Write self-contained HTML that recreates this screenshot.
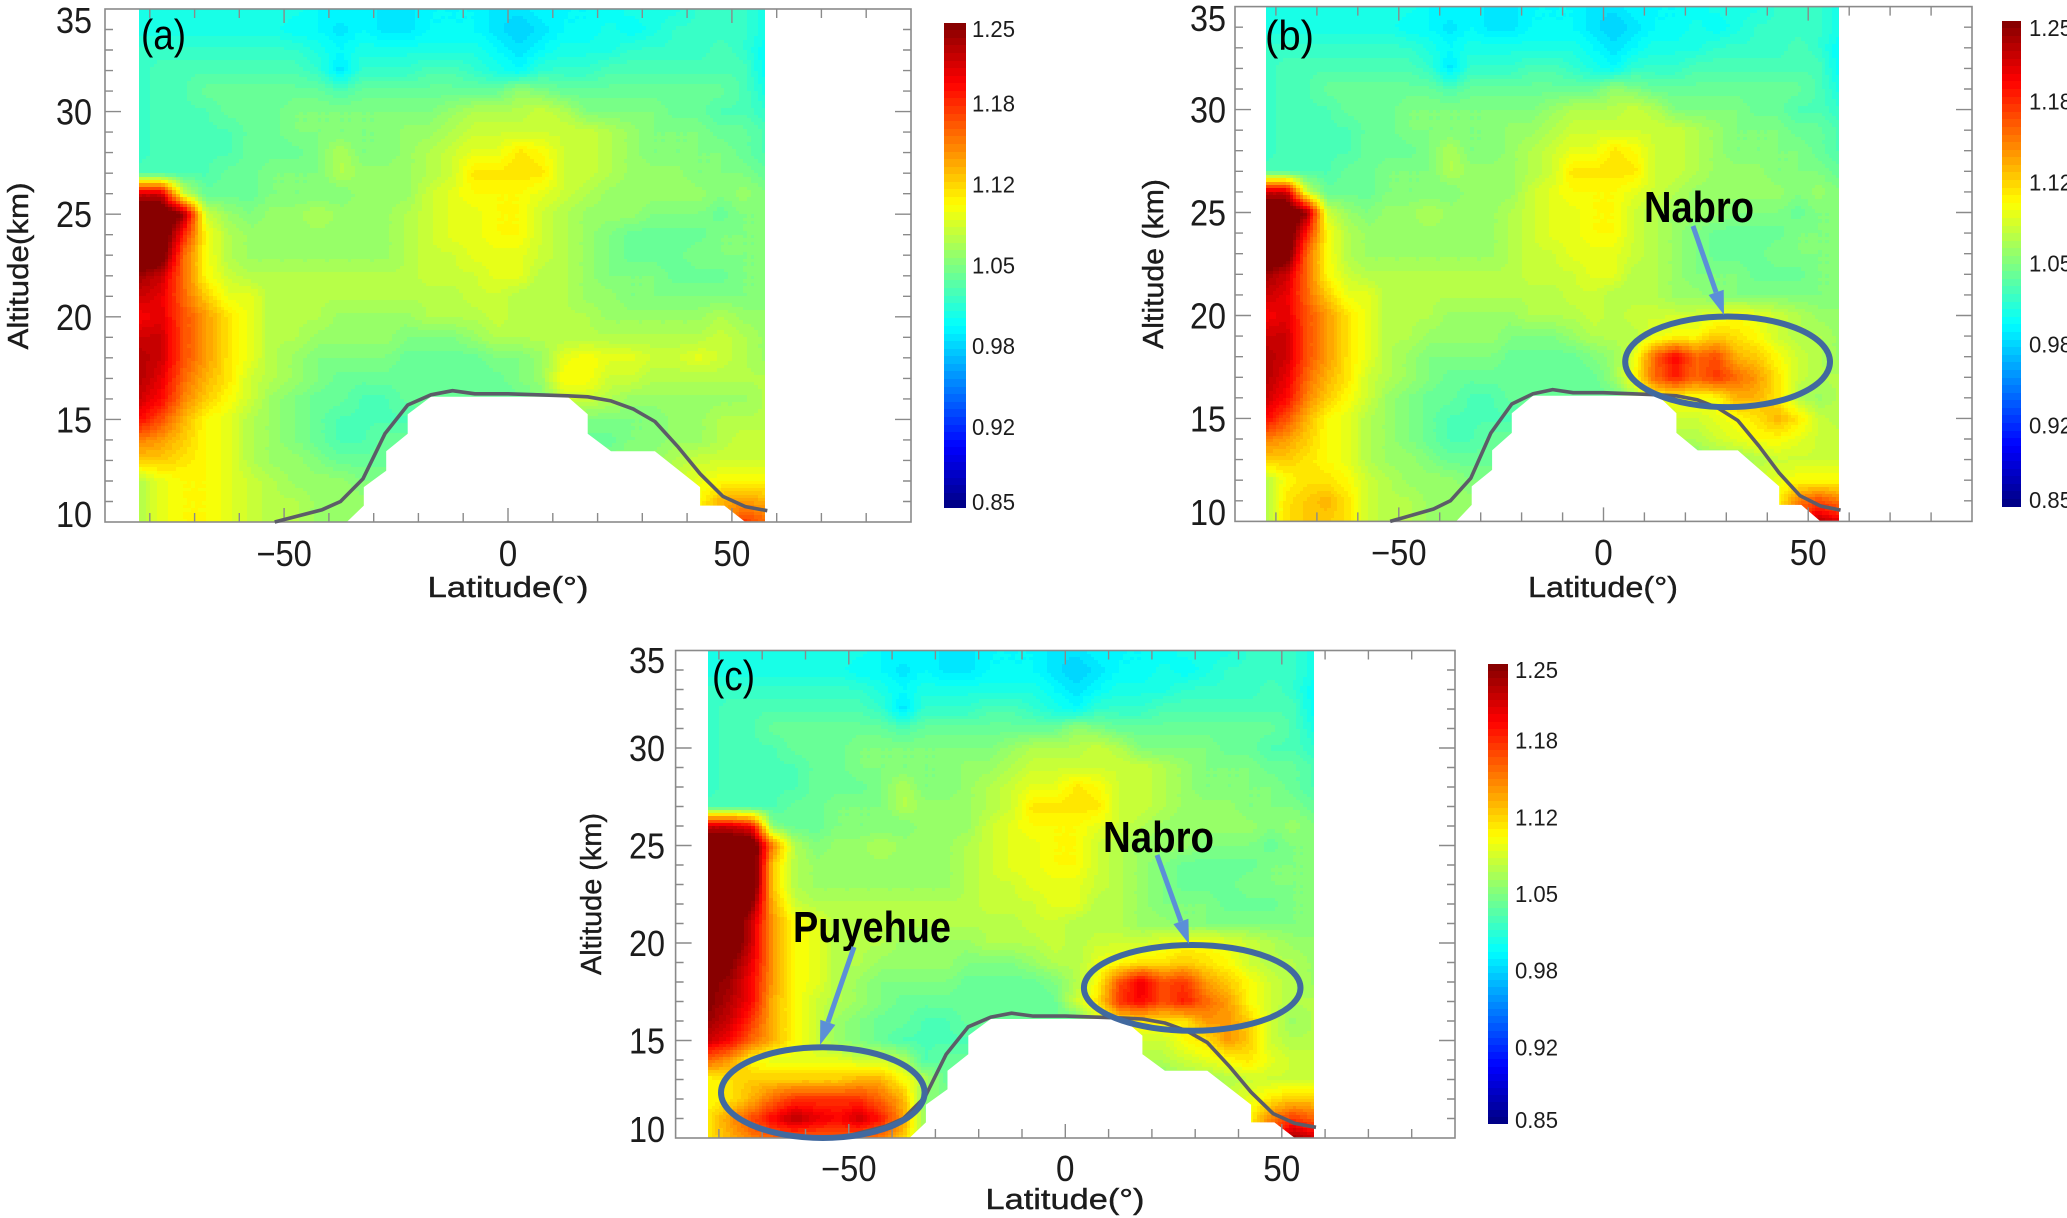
<!DOCTYPE html>
<html lang="en">
<head>
<meta charset="utf-8">
<title>Latitude-altitude scattering ratio panels</title>
<style>
html,body{margin:0;padding:0;background:#fff;width:2067px;height:1218px;overflow:hidden}
svg{display:block}
#figure{fill:#1c1c1c}
text{font-family:"Liberation Sans",sans-serif}
</style>
</head>
<body>
<svg id="figure" xmlns="http://www.w3.org/2000/svg" width="2067" height="1218" viewBox="0 0 2067 1218"></svg>
<script>
// ---- chart data ----
const latitudes = [-82.5,-77.5,-72.5,-67.5,-62.5,-57.5,-52.5,-47.5,-42.5,-37.5,-32.5,-27.5,-22.5,-17.5,-12.5,-7.5,-2.5,2.5,7.5,12.5,17.5,22.5,27.5,32.5,37.5,42.5,47.5,52.5,57.5];
const altitudes = [35,34,33,32,31,30,29,28,27,26,25,24,23,22,21,20,19,18,17,16,15,14,13,12,11,10];
// scattering ratio x 100, one row per altitude, one column per latitude
const fieldA = [
[101,101,101,101,101,101,101,101,100,100,100, 99, 99,100,100,100, 99, 99,100,100,100,100,101,101,101,102,102,102,101],
[101,101,101,101,101,101,101,100,100, 99,100, 99, 99,100,100,100, 99, 98, 99,100,100,101,100,101,102,102,102,102,101],
[102,102,102,102,102,102,102,102,101,100,101,101,101,101,101,101,100, 99,100,101,101,101,102,102,102,102,103,102,100],
[102,103,103,103,103,103,103,103,102, 99,102,102,102,103,103,102,101,100,102,102,102,103,103,103,103,103,103,103,100],
[102,103,103,104,104,104,104,104,104,103,104,104,104,104,104,104,104,106,105,104,104,104,104,104,104,104,104,103,101],
[102,103,103,103,104,104,104,105,105,105,105,105,105,105,106,107,107,107,108,107,105,105,105,105,104,104,103,103,102],
[102,103,103,103,103,104,104,105,105,105,105,105,106,106,107,108,108,108,108,108,108,107,106,105,105,105,104,104,103],
[102,103,103,103,103,104,104,104,105,107,105,105,106,107,108,109,109,111,110,108,108,107,106,105,105,105,105,104,103],
[103,103,103,103,104,104,105,105,105,107,106,106,106,107,108,111,111,111,111,108,108,107,106,106,106,105,105,105,104],
[122,122,108,104,104,104,105,105,105,105,106,106,106,108,109,110,110,110,109,108,107,106,106,106,106,106,105,106,105],
[128,128,124,108,106,105,106,106,107,106,106,106,107,108,109,109,110,110,108,107,106,106,106,105,105,105,104,105,105],
[128,128,119,110,107,106,106,106,106,106,106,106,107,108,109,109,110,110,108,107,106,105,104,104,104,104,105,105,105],
[128,127,116,110,107,106,106,106,106,106,106,106,107,108,108,109,109,109,108,107,106,105,104,104,104,105,105,105,105],
[124,122,116,110,108,107,107,107,107,107,107,107,107,108,108,108,109,109,107,107,106,105,105,105,104,104,104,105,105],
[122,121,116,112,109,109,107,107,107,107,107,107,107,107,107,108,108,107,107,107,106,106,105,105,105,105,105,105,105],
[120,121,117,114,111,109,107,107,107,106,106,106,106,107,107,107,108,107,107,107,107,106,106,106,106,106,107,106,106],
[122,122,117,114,111,109,107,107,106,106,106,106,105,105,105,106,107,107,107,107,107,107,107,107,107,107,108,107,106],
[123,122,117,114,111,109,107,106,105,105,105,105,104,104,104,104,105,105,106,109,110,109,109,108,108,109,108,107,106],
[123,121,116,113,111,108,107,106,105,104,104,104,104,104,104,104,104,105,106,110,110,108,108,107,107,107,107,107,107],
[122,120,115,112,110,108,106,105,104,104,103,103,104,104,104,104,104,104,105,108,108,107,106,106,106,106,106,106,107],
[120,117,113,110,109,107,106,105,104,103,103,103,103,104,104,104,104,104,105,105,105,105,105,105,106,106,107,107,107],
[115,114,112,110,109,107,106,105,104,103,103,104,104,105,105,105,105,105,105,105,104,104,105,105,106,106,107,108,108],
[112,112,111,110,109,107,106,106,105,104,104,104,105,105,105,105,105,105,105,105,105,105,106,106,107,108,108,108,108],
[107,109,110,110,109,108,107,106,106,106,105,105,105,105,105,105,105,105,105,105,105,105,106,107,108,109,110,110,110],
[107,109,110,110,109,108,107,107,106,106,106,106,105,105,105,105,105,105,105,105,105,105,106,107,108,110,113,114,113],
[107,109,110,110,109,108,107,107,106,106,106,106,105,105,105,105,105,105,105,105,105,105,106,107,108,110,113,118,116]
];
// replacements for panel b: altitude, first latitude column, then values
const patchB = [
[20,17,107,108,108,108,108,109,110,109,108,107],
[19,18,107,109,110,110,112,111,110,108,107],
[18,17,106,109,116,120,116,117,113,112,110,108],
[17,17,106,110,116,119,116,118,116,114,111,108],
[16,18,106,110,110,110,110,113,113,111,107],
[15,20,108,108,109,110,111,113,111,108],
[14,20,107,107,108,109,110,110,109],
[12,1,110,111,111,110],
[11,1,111,112,113,111],
[10,1,111,112,112,111],
[11,26,115,117,115],
[10,26,117,123,121]
];
// replacements for panel c: altitude, first latitude column, then values
const patchC = [
[26,0,122,122,120,105],
[25,0,128,128,128,115,107],
[24,0,128,128,128,112,107],
[23,0,128,128,128,112],
[22,0,128,128,125,113,108],
[21,0,128,128,122,114,110],
[20,0,128,128,122,114,110],
[19,0,128,125,121,114,110],
[18,0,125,124,120,114,110],
[17,0,125,123,120,113,110],
[16,0,124,122,118,113,110],
[15,0,122,120,116,113,110,108],
[14,0,116,114,110,109,109,109,109,108,108,107],
[13,0,110,111,112,112,112,112,112,113,113,110,107],
[12,0,110,111,113,116,118,118,118,118,116,113],
[11,0,111,114,117,120,123,121,120,122,119,114],
[10,0,111,113,115,116,116,116,116,116,115,112],
[20,17,107,108,108,108,109,110,110,109,108,107],
[19,17,107,109,110,111,111,112,111,110,108,107],
[18,17,107,110,117,121,117,118,114,112,110,108],
[17,17,108,111,118,120,117,119,116,114,110,108],
[16,18,108,111,111,111,111,114,114,112,108],
[15,19,107,108,108,110,111,114,112,108],
[14,20,107,107,108,109,110,111,109],
[12,26,111,112,112],
[11,26,115,118,116],
[10,26,117,124,122]
];
const tropopauseLat = [-52.1,-41.5,-37.4,-32.4,-27.5,-22.4,-17.2,-12.4,-7.4,0,13.3,17.8,23,28,32.8,38,42.9,48,53,57.9];
const tropopauseAlt = [10,10.6,11,12.1,14.3,15.7,16.2,16.4,16.25,16.25,16.15,16.1,15.9,15.5,14.9,13.65,12.35,11.25,10.75,10.55];
const noDataLat = [-36,-32.2,-32.2,-27.2,-27.2,-22.4,-22.4,-17.2,13.3,17.8,17.8,23,32.8,42.9,42.9,48.3,53];
const noDataAlt = [10,10.8,11.7,12.5,13.45,14.3,15.25,16.1,16.1,15.25,14.3,13.45,13.45,11.7,10.8,10.8,10];
const xTickLabels = ["−50","0","50"];
const xTickValues = [-50,0,50];
const yTickValues = [35,30,25,20,15,10];
const colorbarLabels = ["1.25","1.18","1.12","1.05","0.98","0.92","0.85"];
const colorMin = 0.85;
const colorMax = 1.25;

// ---- layout ----
const panels = [
 {id:"a",patch:[],l:105,r:911,t:9,b:522,tag:"(a)",tagX:141,tagY:49,tagW:45,
  cb:[944,966,22.6,508],cbLabelX:972,cbL1:29,cbL2:502,
  yRight:92,y35:20,y10:514,xBase:566,ytx:18,yty:266,ytl:167,ytext:"Altitude(km)",xtext:"Latitude(°)",xtl:161,xtx:508,xty:597},
 {id:"b",patch:patchB,l:1235,r:1972,t:6.6,b:521.4,tag:"(b)",tagX:1265,tagY:50,tagW:49,
  cb:[2002,2021,20.6,506.6],cbLabelX:2029,cbL1:28,cbL2:500,
  yRight:1226,y35:18,y10:512,xBase:565,ytx:1153,yty:264,ytl:170,ytext:"Altitude (km)",xtext:"Latitude(°)",xtl:150,xtx:1603,xty:597},
 {id:"c",patch:patchC,l:675.6,r:1455,t:650.5,b:1138,tag:"(c)",tagX:712,tagY:690,tagW:43,
  cb:[1488,1508,664,1124],cbLabelX:1515,cbL1:670,cbL2:1120,
  yRight:665,y35:660,y10:1129,xBase:1181,ytx:591,yty:894,ytl:162,ytext:"Altitude (km)",xtext:"Latitude(°)",xtl:159,xtx:1065,xty:1209}
];
const calloutsB = [{lat:30.3,alt:17.75,dlat:25,dalt:2.2,name:"nabro"}];
const calloutsC = [{lat:29.3,alt:17.7,dlat:25,dalt:2.2,name:"nabro"},{lat:-56,alt:12.33,dlat:23.5,dalt:2.33,name:"puyehue"}];

const NS = "http://www.w3.org/2000/svg";
const root = document.getElementById("figure");
function make(parent, tag, attrs, txt){
  const el = document.createElementNS(NS, tag);
  for (const k in attrs) el.setAttribute(k, attrs[k]);
  if (txt !== undefined) el.textContent = txt;
  parent.appendChild(el);
  return el;
}
function jet(t){
  t = Math.max(0, Math.min(1, t));
  const stops = [[0,0,0,128],[.125,0,0,255],[.375,0,255,255],[.625,255,255,0],[.875,255,0,0],[1,128,0,0]];
  for (let i = 1; i < stops.length; i++){
    if (t <= stops[i][0]){
      const a = stops[i-1], b = stops[i], f = (t-a[0])/(b[0]-a[0]);
      return "rgb(" + Math.round(a[1]+(b[1]-a[1])*f) + "," + Math.round(a[2]+(b[2]-a[2])*f) + "," + Math.round(a[3]+(b[3]-a[3])*f) + ")";
    }
  }
  return "rgb(128,0,0)";
}
const LEVELS = 64, SUB = 6;

panels.forEach(function(p){
  const xS = function(lat){ return p.l + (lat + 90) / 180 * (p.r - p.l); };
  const yS = function(alt){ return p.b - (alt - 10) / 25 * (p.b - p.t); };
  const g = make(root, "g", {});
  
  

  // field for this panel
  const field = fieldA.map(function(r){ return r.slice(); });
  p.patch.forEach(function(e){
    const row = altitudes.indexOf(e[0]);
    for (let i = 2; i < e.length; i++) field[row][e[1] + i - 2] = e[i];
  });

  // heatmap: interpolated blocks grouped into colour-level bands
  const bands = [];
  for (let i = 0; i < LEVELS; i++) bands.push([]);
  for (let r = 0; r < altitudes.length - 1; r++){
    for (let c = 0; c < latitudes.length - 1; c++){
      for (let sy = 0; sy < SUB; sy++){
        const fy0 = sy / SUB, fy1 = (sy + 1) / SUB, fyc = (sy + .5) / SUB;
        const y0 = Math.round(yS(altitudes[r] + (altitudes[r+1] - altitudes[r]) * fy0));
        const y1 = Math.round(yS(altitudes[r] + (altitudes[r+1] - altitudes[r]) * fy1));
        for (let sx = 0; sx < SUB; sx++){
          const fx0 = sx / SUB, fx1 = (sx + 1) / SUB, fxc = (sx + .5) / SUB;
          const x0 = Math.round(xS(latitudes[c] + 5 * fx0));
          const x1 = Math.round(xS(latitudes[c] + 5 * fx1));
          const v = (field[r][c]*(1-fxc)*(1-fyc) + field[r][c+1]*fxc*(1-fyc) + field[r+1][c]*(1-fxc)*fyc + field[r+1][c+1]*fxc*fyc) / 100;
          let lv = Math.floor((v - colorMin) / (colorMax - colorMin) * LEVELS);
          lv = Math.max(0, Math.min(LEVELS - 1, lv));
          bands[lv].push("M" + x0 + " " + y0 + "H" + x1 + "V" + y1 + "H" + x0 + "Z");
        }
      }
    }
  }
  const heat = make(g, "g", {"shape-rendering":"crispEdges"});
  
  
  bands.forEach(function(b, i){
    if (!b.length) return;
    const band = make(heat, "path", {d:b.join(""), fill:jet((i + .5) / LEVELS)});
    
    
  });

  // no-data region below the tropopause
  const maskPts = noDataLat.map(function(la, i){ return xS(la).toFixed(1) + "," + yS(noDataAlt[i]).toFixed(1); }).join(" ");
  const mask = make(g, "polygon", {points:maskPts, fill:"#fff"});
  
  

  // frame
  const frame = make(g, "rect", {x:p.l, y:p.t, width:p.r-p.l, height:p.b-p.t, fill:"none", stroke:"#8a8a8a", "stroke-width":1.6});
  
  

  // ticks
  let tickD = "";
  for (let la = -80; la <= 80; la += 10){
    const len = la % 50 === 0 ? 14 : 9;
    tickD += "M" + xS(la).toFixed(1) + " " + p.b + "v" + (-len) + "M" + xS(la).toFixed(1) + " " + p.t + "v" + len;
  }
  for (let al = 11; al < 35; al++){
    const len = al % 5 === 0 ? 16 : 8;
    tickD += "M" + p.l + " " + yS(al).toFixed(1) + "h" + len + "M" + p.r + " " + yS(al).toFixed(1) + "h" + (-len);
  }
  const ticks = make(g, "path", {d:tickD, stroke:"#8a8a8a", "stroke-width":1.4, fill:"none"});
  
  

  // tick labels (tall, slightly condensed like the original)
  xTickValues.forEach(function(v, i){
    const lbl = xTickLabels[i];
    const w = lbl.length * 18.5;
    const t = make(g, "text", {x:xS(v).toFixed(1), y:p.xBase, "font-size":36, "text-anchor":"middle", textLength:w, lengthAdjust:"spacingAndGlyphs"}, lbl);
    
    
  });
  yTickValues.forEach(function(v){
    let cy = yS(v);
    if (v === 35) cy = p.y35;
    if (v === 10) cy = p.y10;
    const t = make(g, "text", {x:p.yRight, y:(cy + 13).toFixed(1), "font-size":36, "text-anchor":"end", textLength:36, lengthAdjust:"spacingAndGlyphs"}, String(v));
    
    
  });

  // axis titles
  const xt = make(g, "text", {x:p.xtx, y:p.xty, "font-size":29, "text-anchor":"middle", textLength:p.xtl, lengthAdjust:"spacingAndGlyphs", stroke:"#1c1c1c", "stroke-width":.4}, p.xtext);
  
  
  const yt = make(g, "text", {transform:"translate(" + (p.ytx + 10) + " " + p.yty + ") rotate(-90)", "font-size":29, "text-anchor":"middle", textLength:p.ytl, lengthAdjust:"spacingAndGlyphs", stroke:"#1c1c1c", "stroke-width":.4}, p.ytext);
  
  

  // tropopause line
  const linePts = tropopauseLat.map(function(la, i){ return xS(la).toFixed(1) + "," + yS(tropopauseAlt[i]).toFixed(1); }).join(" ");
  const line = make(g, "polyline", {points:linePts, fill:"none", stroke:"#5c5c68", "stroke-width":3.6, "stroke-linejoin":"round"});
  
  

  // colour bar
  const cb = make(g, "g", {"shape-rendering":"crispEdges"});
  
  
  const cbTop = p.cb[2], cbBot = p.cb[3], cbH = cbBot - cbTop;
  for (let i = 0; i < LEVELS; i++){
    const y1 = Math.round(cbBot - cbH * i / LEVELS), y0 = Math.round(cbBot - cbH * (i + 1) / LEVELS);
    const s = make(cb, "rect", {x:p.cb[0], y:y0, width:p.cb[1]-p.cb[0], height:y1-y0, fill:jet((i + .5) / LEVELS)});
    
    
  }
  colorbarLabels.forEach(function(lbl, i){
    const last = colorbarLabels.length - 1;
    const y = i === 0 ? p.cbL1 : (i === last ? p.cbL2 : cbTop + cbH * i / last);
    const t = make(g, "text", {x:p.cbLabelX, y:(y + 8).toFixed(1), "font-size":23, textLength:43, lengthAdjust:"spacingAndGlyphs"}, lbl);
    
    
  });

  // panel letter
  const tag = make(g, "text", {x:p.tagX, y:p.tagY, "font-size":42, textLength:p.tagW, lengthAdjust:"spacingAndGlyphs", fill:"#000"}, p.tag);
  
  

  // callout ellipses
  const callouts = p.id === "b" ? calloutsB : (p.id === "c" ? calloutsC : []);
  callouts.forEach(function(c){
    const e = make(g, "ellipse", {cx:xS(c.lat).toFixed(1), cy:yS(c.alt).toFixed(1), rx:(c.dlat/180*(p.r-p.l)).toFixed(1), ry:(c.dalt/25*(p.b-p.t)).toFixed(1), fill:"none", stroke:"#41699f", "stroke-width":6});
    
    
  });
});

// annotations: label text and arrows
function arrow(x1, y1, x2, y2, name){
  const ang = Math.atan2(y2 - y1, x2 - x1), h = 24, w = 8;
  const bx = x2 - h * Math.cos(ang), by = y2 - h * Math.sin(ang);
  const nx = -Math.sin(ang), ny = Math.cos(ang);
  const a = make(root, "path", {d:"M" + x1 + " " + y1 + "L" + bx.toFixed(1) + " " + by.toFixed(1), stroke:"#5b8fd8", "stroke-width":5, fill:"none"});
  
  
  const b = make(root, "polygon", {points:x2 + "," + y2 + " " + (bx + nx * w).toFixed(1) + "," + (by + ny * w).toFixed(1) + " " + (bx - nx * w).toFixed(1) + "," + (by - ny * w).toFixed(1), fill:"#5b8fd8"});
  
  
}
function note(x, y, txt, width, name){
  const t = make(root, "text", {x:x, y:y, "font-size":44, "font-weight":"bold", textLength:width, lengthAdjust:"spacingAndGlyphs", fill:"#000"}, txt);
  
  
}
note(1644, 222, "Nabro", 110, "nabro-label-b");
arrow(1693, 226, 1724, 315, "nabro-b");
note(1103, 852, "Nabro", 111, "nabro-label-c");
arrow(1157, 855, 1189, 944, "nabro-c");
note(793, 942, "Puyehue", 158, "puyehue-label");
arrow(854, 947, 820, 1045, "puyehue");
</script>
</body>
</html>
